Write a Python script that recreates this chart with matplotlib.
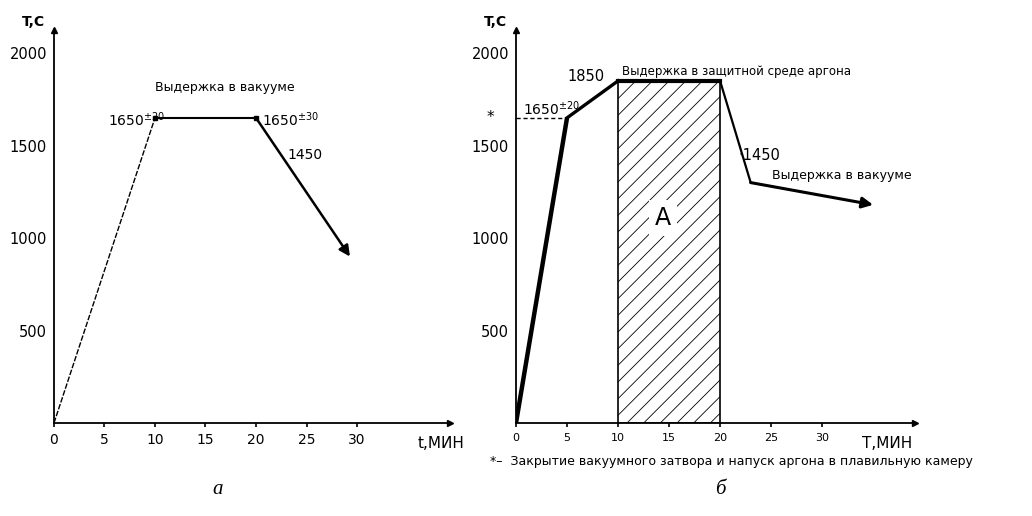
from matplotlib import pyplot as plt

# panel a: vacuum hold
t_a = [0, 10, 20]
T_a = [0, 1650, 1650]
t_a_end, T_a_end = 29.3, 900

# panel b: argon hold then vacuum
t_b = [0, 5, 10, 20, 23]
T_b = [0, 1650, 1850, 1850, 1300]
t_b_end, T_b_end = 35, 1180

zone_a = [10, 20]   # hatched zone A
x_ticks = [0, 5, 10, 15, 20, 25, 30]
y_ticks = [500, 1000, 1500, 2000]

font = 'DejaVu Sans'
plt.rcParams['font.family'] = font
plt.rcParams['hatch.linewidth'] = 0.6

fig = plt.figure(figsize=(10.32, 5.16), dpi=100)
ax1 = fig.add_axes([0.0523, 0.1802, 0.3837, 0.7616])
ax2 = fig.add_axes([0.5000, 0.1802, 0.3866, 0.7616])


def setup_axes(ax, xmax, xlab, xlab_x, tick_fs):
    ax.set_xlim(0, xmax)
    ax.set_ylim(0, 2125)
    for s in ['top', 'right']:
        ax.spines[s].set_visible(False)
    for s in ['left', 'bottom']:
        ax.spines[s].set_linewidth(1.3)
    ax.set_xticks(x_ticks)
    ax.set_yticks(y_ticks)
    ax.tick_params(axis='x', direction='out', length=3, width=1.2, pad=4, labelsize=tick_fs)
    ax.tick_params(axis='y', length=0, pad=5, labelsize=10.5)
    # axis arrows
    ax.plot(1, 0, marker='>', ms=5, color='black', transform=ax.transAxes, clip_on=False)
    ax.plot(0, 1, marker='^', ms=4, color='black', transform=ax.transAxes, clip_on=False)
    ax.text(-0.022, 1.02, 'T,C', transform=ax.transAxes, ha='right', va='center',
            fontsize=10, fontweight='bold')
    ax.text(xlab_x, -0.052, xlab, transform=ax.transAxes, ha='left', va='center', fontsize=11)


setup_axes(ax1, 39.2, 't,МИН', 0.919, 10)
setup_axes(ax2, 39.1, 'Т,МИН', 0.867, 8)

# ---- panel a ----
ax1.plot(t_a[:2], T_a[:2], color='black', lw=1.0, linestyle=(0, (4, 1.2)))
ax1.plot(t_a[1:], T_a[1:], color='black', lw=1.5)
ax1.plot(t_a[1:], T_a[1:], 's', color='black', ms=3)
ax1.annotate('', xy=(t_a_end, T_a_end), xytext=(t_a[-1], T_a[-1]),
             arrowprops=dict(arrowstyle='-|>', lw=1.8, color='black', mutation_scale=16,
                             shrinkA=0, shrinkB=0))
ax1.text(16.9, 1816, 'Выдержка в вакууме', ha='center', va='center', fontsize=9)
ax1.text(5.3, 1640, '1650$^{\\pm20}$', ha='left', va='center', fontsize=10)
ax1.text(20.6, 1640, '1650$^{\\pm30}$', ha='left', va='center', fontsize=10)
ax1.text(23.1, 1449, '1450', ha='left', va='center', fontsize=10)

# ---- panel b ----
ax2.bar((zone_a[0] + zone_a[1]) / 2, T_b[2], width=zone_a[1] - zone_a[0],
        facecolor='white', edgecolor='black', hatch='//', linewidth=1.2, zorder=1)
ax2.text(14.4, 1108, 'А', ha='center', va='center', fontsize=17, zorder=2,
         bbox=dict(facecolor='white', edgecolor='none', pad=4))
ax2.plot(t_b[:2], T_b[:2], color='black', lw=3.2, solid_capstyle='butt', zorder=3)
ax2.plot(t_b[1:3], T_b[1:3], color='black', lw=2.4, zorder=3)
ax2.plot(t_b[2:4], T_b[2:4], color='black', lw=3.0, zorder=3)
ax2.plot(t_b[3:5], T_b[3:5], color='black', lw=1.6, zorder=3)
ax2.annotate('', xy=(t_b_end, T_b_end), xytext=(t_b[-1], T_b[-1]),
             arrowprops=dict(arrowstyle='-|>', lw=2.2, color='black', mutation_scale=16,
                             shrinkA=0, shrinkB=0))
ax2.plot([0, t_b[1]], [T_b[1], T_b[1]], color='black', lw=1.0, linestyle=(0, (3, 2)))
ax2.text(-2.5, 1650, '*', ha='center', va='center', fontsize=11, clip_on=False)
ax2.text(0.7, 1700, '1650$^{\\pm20}$', ha='left', va='center', fontsize=10)
ax2.text(5.0, 1875, '1850', ha='left', va='center', fontsize=10.5)
ax2.text(10.4, 1903, 'Выдержка в защитной среде аргона', ha='left', va='center', fontsize=8.5)
ax2.text(21.8, 1449, '·1450', ha='left', va='center', fontsize=10.5)
ax2.text(25.1, 1340, 'Выдержка в вакууме', ha='left', va='center', fontsize=9)

fig.text(490 / 1032, 1 - 462 / 516,
         '*–  Закрытие вакуумного затвора и напуск аргона в плавильную камеру',
         ha='left', va='center', fontsize=9)
fig.text(218 / 1032, 1 - 490 / 516, 'а', ha='center', va='center', fontsize=15,
         family='Liberation Serif', style='italic')
fig.text(720 / 1032, 1 - 490 / 516, 'б', ha='center', va='center', fontsize=15,
         family='Liberation Serif', style='italic')

fig.savefig('out.png', dpi=100)
